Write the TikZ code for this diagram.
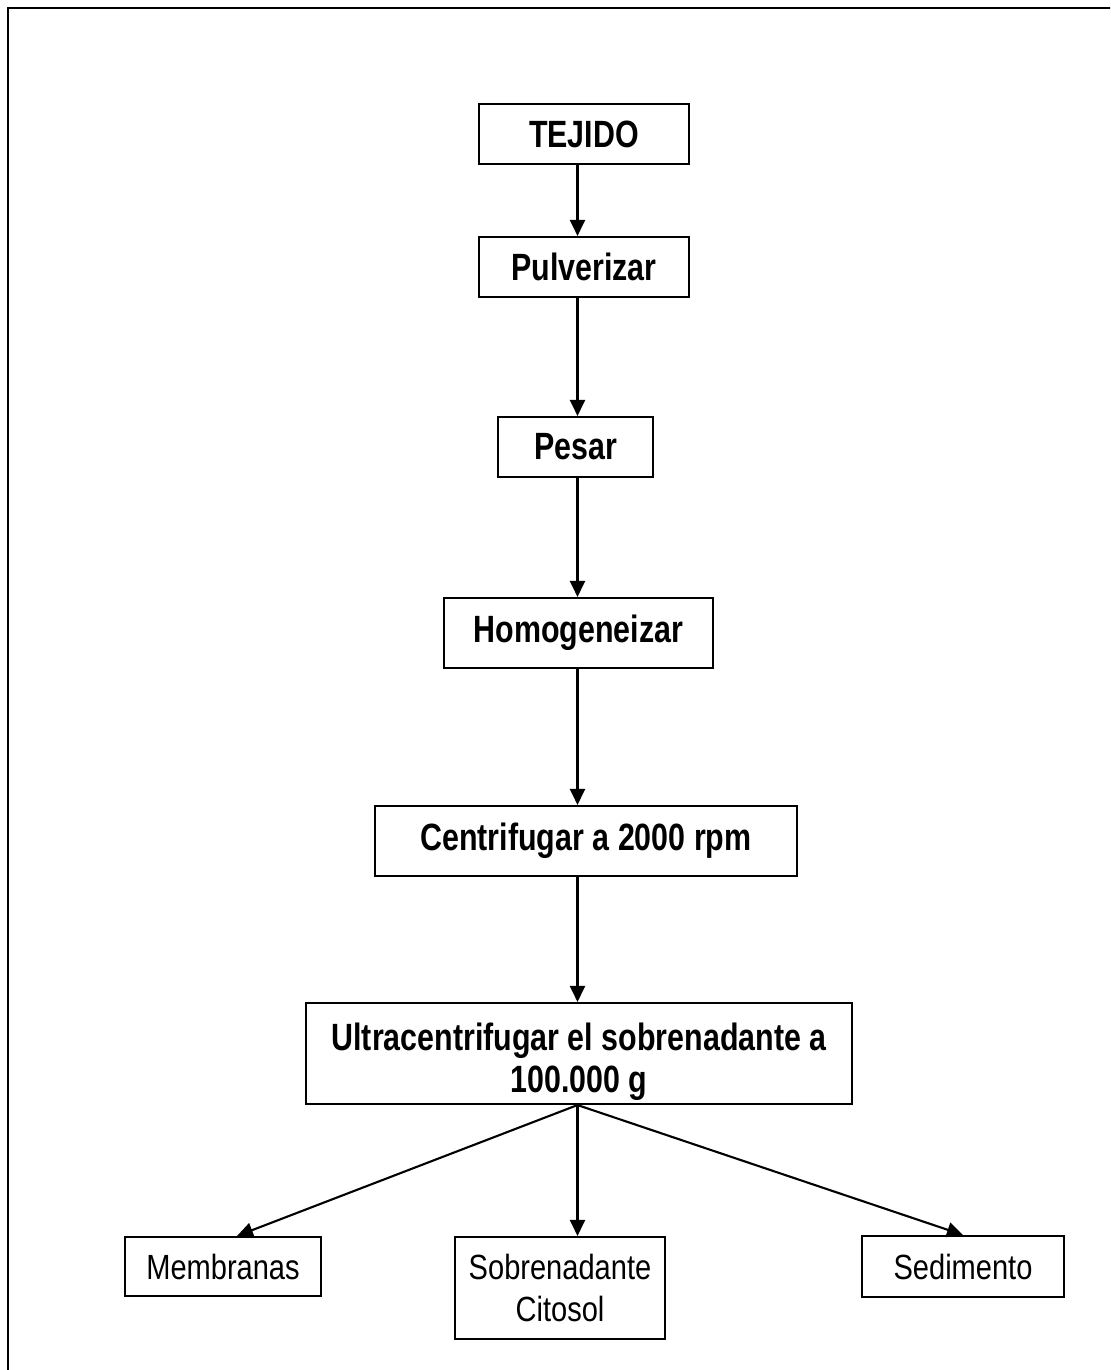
\documentclass[tikz,border=0pt]{standalone}
\usepackage{fontspec}
\setmainfont[FakeStretch=0.83]{Liberation Sans}
\newfontfamily\narrowbold[FakeStretch=0.80]{Liberation Sans Bold}
\usetikzlibrary{arrows.meta,calc}
\tikzset{
  box/.style={draw=black, line width=2.1bp, fill=white, inner sep=0pt, align=center},
  bfont/.style={font=\fontsize{38bp}{42bp}\narrowbold},
  bbox/.style={box, bfont},
  rbox/.style={box, font=\fontsize{35bp}{42bp}\selectfont},
  arr/.style={line width=2.1bp, -{Triangle[length=16bp,width=15bp]}}
}
\begin{document}
\begin{tikzpicture}[x=1bp,y=-1bp]
\useasboundingbox (0,0) rectangle (1110,1370);
\clip (0,0) rectangle (1110,1370);
\draw[line width=2.2bp] (8,8) rectangle (1130,1400);
\coordinate (ax) at (577.5,0);
\node[bbox, minimum width=210bp, minimum height=60bp] (tej) at (584,134) {TEJIDO};
\node[bbox, minimum width=210bp, minimum height=60bp] (pul) at (584,267) {Pulverizar};
\node[bbox, minimum width=155bp, minimum height=60bp] (pes) at (575.5,447) {Pesar};
\node[bbox, minimum width=269bp, minimum height=70bp] (hom) at (578.5,633) {Homogeneizar};
\node[bbox, minimum width=422bp, minimum height=70bp] (cen) at (586,841) {Centrifugar a 2000 rpm};
\node[box, minimum width=546bp, minimum height=101bp] (ult) at (579,1053.5) {};
\node[bfont, align=center, inner sep=0pt] (ultt) at ($(ult.center)+(0,8)$) {Ultracentrifugar el sobrenadante a\\100.000 g};
\node[rbox, minimum width=196bp, minimum height=59bp] (mem) at (223,1266.5) {Membranas};
\node[rbox, minimum width=210bp, minimum height=102bp] (sob) at (560,1288) {Sobrenadante\\Citosol};
\node[rbox, minimum width=202bp, minimum height=61bp] (sed) at (963,1266.5) {Sedimento};
\draw[arr] (tej.south -| ax) -- (pul.north -| ax);
\draw[arr] (pul.south -| ax) -- (pes.north -| ax);
\draw[arr] (pes.south -| ax) -- (hom.north -| ax);
\draw[arr] (hom.south -| ax) -- (cen.north -| ax);
\draw[arr] (cen.south -| ax) -- (ult.north -| ax);
\draw[arr] (ult.south -| ax) -- ([xshift=14bp]mem.north);
\draw[arr] (ult.south -| ax) -- (sob.north -| ax);
\draw[arr] (ult.south -| ax) -- (sed.north);
\end{tikzpicture}
\end{document}
